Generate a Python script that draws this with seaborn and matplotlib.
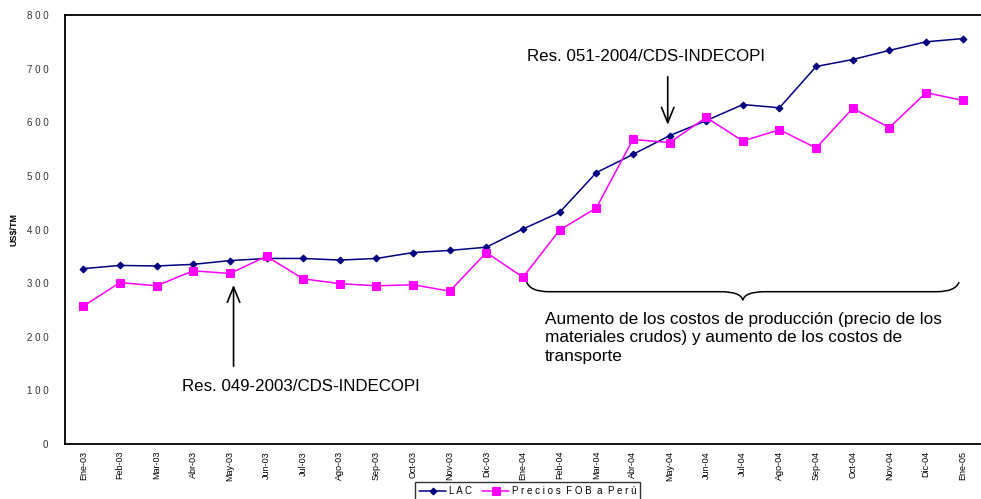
import numpy as np
import pandas as pd
import matplotlib
matplotlib.use("Agg")
import matplotlib.pyplot as plt
from matplotlib.path import Path
from matplotlib.patches import PathPatch
import seaborn as sns

# ---- data ----
meses = ["Ene-03", "Feb-03", "Mar-03", "Abr-03", "May-03", "Jun-03", "Jul-03", "Ago-03",
         "Sep-03", "Oct-03", "Nov-03", "Dic-03", "Ene-04", "Feb-04", "Mar-04", "Abr-04",
         "May-04", "Jun-04", "Jul-04", "Ago-04", "Sep-04", "Oct-04", "Nov-04", "Dic-04", "Ene-05"]
lac = [327, 333, 332, 335, 342, 346, 346, 343, 346, 357, 361, 367, 401,
       432, 506, 540, 575, 603, 633, 627, 704, 717, 734, 750, 756]
fob = [257, 301, 295, 323, 318, 350, 308, 299, 295, 297, 285, 357, 311,
       399, 440, 568, 562, 609, 565, 586, 552, 626, 590, 655, 641]
y_ticks = [0, 100, 200, 300, 400, 500, 600, 700, 800]

df = pd.DataFrame({"idx": np.arange(len(meses)), "LAC": lac, "FOB": fob})

sns.set_style("white")
plt.rcParams["font.family"] = ["Liberation Sans", "DejaVu Sans"]
plt.rcParams["text.color"] = "black"

fig = plt.figure(figsize=(9.81, 4.99), dpi=100)
ax = fig.add_axes([65 / 981, 55 / 499, 1 - 65 / 981, 429 / 499])

sns.lineplot(data=df, x="idx", y="LAC", ax=ax, color="#000080", marker="D",
             markersize=3.5, markeredgecolor="#000080", linewidth=1.1, label="L A C")
sns.lineplot(data=df, x="idx", y="FOB", ax=ax, color="#FF00FF", marker="s",
             markersize=6, markeredgecolor="#FF00FF", linewidth=1.1,
             label="P r e c i o s  F O B  a  P e r ú")

ax.set_xlim(-0.5, 24.33)
ax.set_ylim(0, 800)

# category labels centred, tick marks between categories
ax.set_xticks(np.arange(len(meses)))
ax.set_xticklabels(meses, rotation=90, fontsize=6.5, color="black")
ax.set_xticks(np.arange(-0.5, len(meses), 1), minor=True)
ax.tick_params(axis="x", which="major", length=0, pad=5)
ax.tick_params(axis="x", which="minor", length=4, width=1, direction="out", color="black")
ax.set_yticks(y_ticks)
ax.set_yticklabels([" ".join(str(v)) for v in y_ticks], fontsize=7, color="#333333")
ax.tick_params(axis="y", length=4, width=1, direction="out", color="black", pad=8)
ax.set_xlabel("")
ax.set_ylabel("US$/TM", fontsize=6.5, fontweight="bold", labelpad=6, color="black")

for s in ["left", "bottom", "top"]:
    ax.spines[s].set_visible(True)
    ax.spines[s].set_color("black")
    ax.spines[s].set_linewidth(1.3)
ax.spines["right"].set_visible(False)

arrow_kw = dict(arrowstyle="->,head_length=1.1,head_width=0.45", color="black", lw=1.2)

# annotations
ax.text(12.1, 722, "Res. 051-2004/CDS-INDECOPI", fontsize=12.2, va="center", ha="left")
ax.annotate("", xy=(15.95, 590), xytext=(15.95, 690), arrowprops=arrow_kw)
ax.text(2.7, 108, "Res. 049-2003/CDS-INDECOPI", fontsize=12.2, va="center", ha="left")
ax.annotate("", xy=(4.1, 302), xytext=(4.1, 140), arrowprops=arrow_kw)
ax.text(12.6, 247, "Aumento de los costos de producción (precio de los\n"
        "materiales crudos) y aumento de los costos de\ntransporte",
        fontsize=12.4, va="top", ha="left", linespacing=1.3)

# curly brace under the 2004 segment
x0, xm, x1 = 12.1, 18.0, 23.9
yt, yb, ytip = 302, 284, 268
verts = [(x0, yt), (x0 + 0.1, yb), (x0 + 0.6, yb),
         (xm - 0.6, yb), (xm - 0.05, yb), (xm, ytip),
         (xm + 0.05, yb), (xm + 0.6, yb),
         (x1 - 0.6, yb), (x1 - 0.1, yb), (x1, yt)]
codes = [Path.MOVETO, Path.CURVE3, Path.CURVE3,
         Path.LINETO, Path.CURVE3, Path.CURVE3,
         Path.CURVE3, Path.CURVE3,
         Path.LINETO, Path.CURVE3, Path.CURVE3]
ax.add_patch(PathPatch(Path(verts, codes), fill=False, color="black", lw=1.1))

leg = ax.legend(loc="center", bbox_to_anchor=(0.538, 0.016), bbox_transform=fig.transFigure,
                ncol=2, fontsize=7, frameon=True, fancybox=False, edgecolor="black",
                handlelength=2.8, columnspacing=1.0, borderpad=0.4, handletextpad=0.3)
leg.get_frame().set_linewidth(1.0)

fig.savefig("out.png", dpi=100)
